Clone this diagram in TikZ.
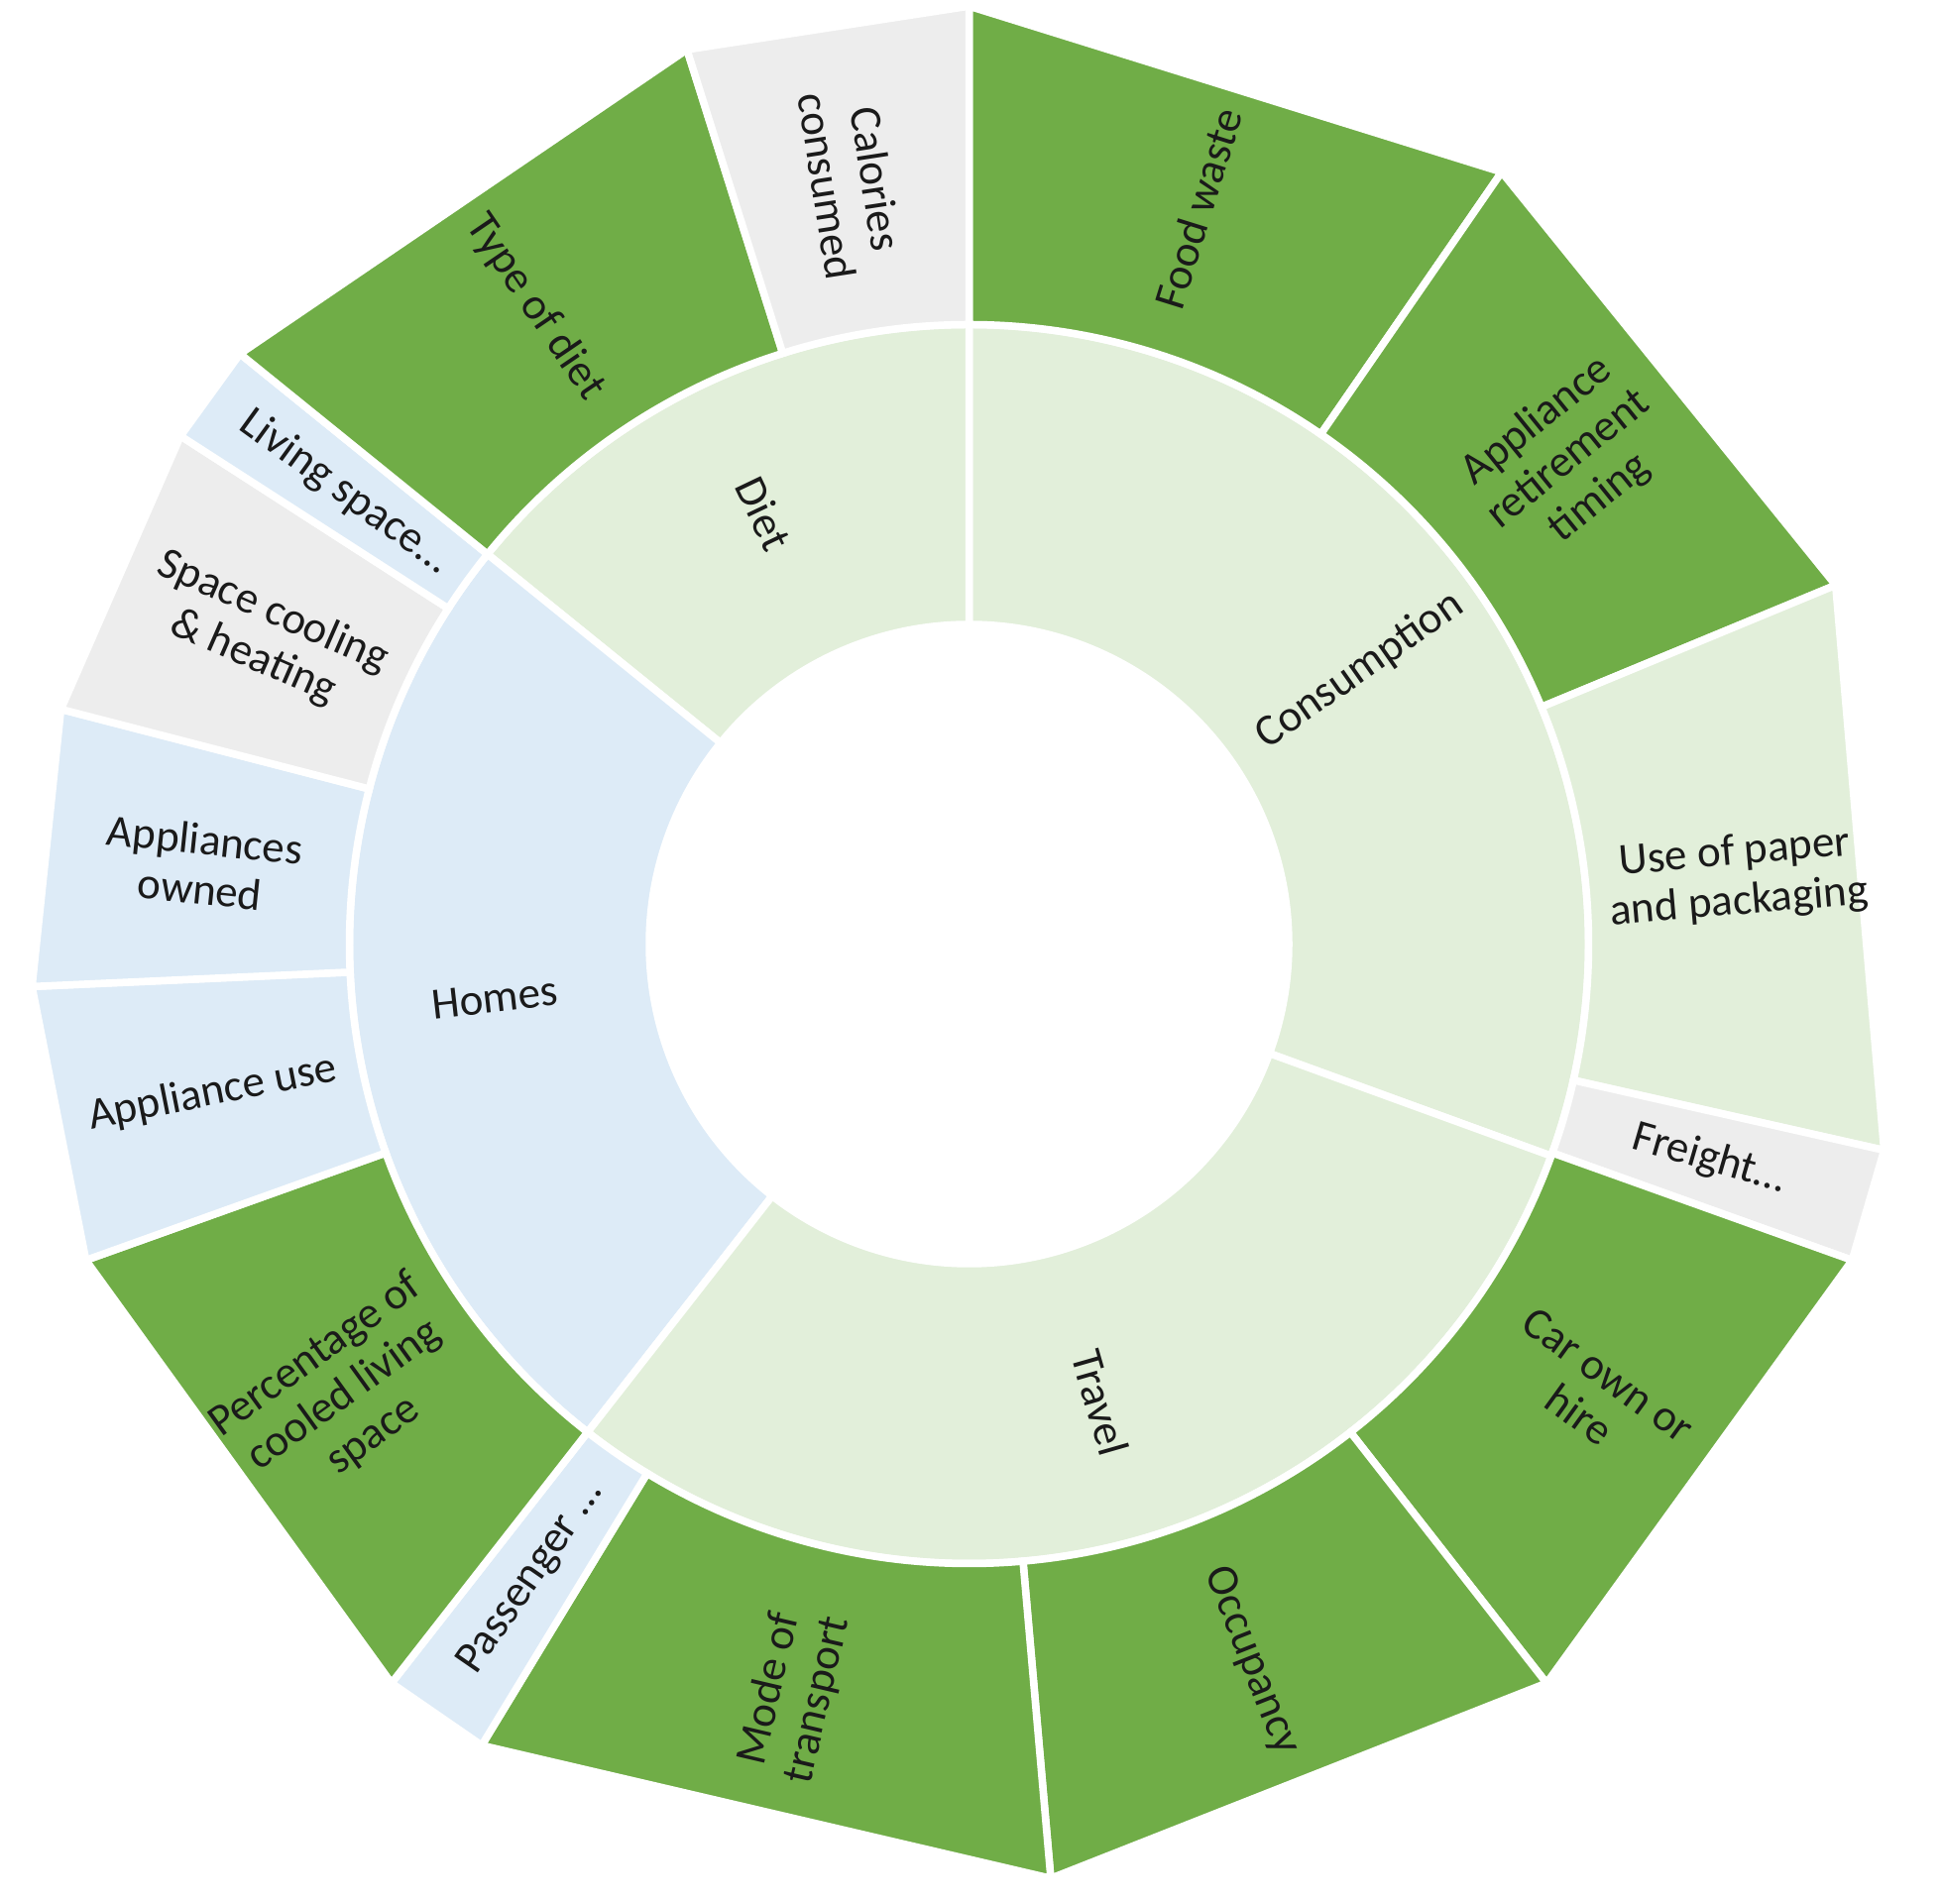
\documentclass[tikz,border=0pt]{standalone}
\usepackage{fontspec}
\setmainfont{Carlito}
\definecolor{dg}{HTML}{70AD47}
\definecolor{lg}{HTML}{E2EFDA}
\definecolor{lb}{HTML}{DDEBF7}
\definecolor{gy}{HTML}{EDEDED}
\definecolor{tx}{HTML}{1A1A1A}
\tikzset{seg/.style={draw=white,line width=6pt,line join=miter},
lbl/.style={text=tx,align=center,font=\fontsize{36}{40}\selectfont}}
\begin{document}
\begin{tikzpicture}[x=1pt,y=1pt]
\useasboundingbox (0,0) rectangle (1568,1536);
\begin{scope}[shift={(782,774)}]
\foreach \i/\a/\b/\c/\t in {1/-20/90/lg/Consumption,2/90/141/lg/Diet,3/141/232/lb/Homes,4/232/340/lg/Travel}{
 \filldraw[seg,fill=\c] (\a:258) arc[start angle=\a,end angle=\b,radius=258] -- (\b:500) arc[start angle=\b,end angle=\a,radius=500] -- cycle;
 \pgfmathsetmacro\m{(\a+\b)/2}
 \pgfmathsetmacro\r{cos(\m)>=0 ? \m : \m-180}
 \node[lbl,rotate=\r] (in\i) at (\m:385) {\t};
}
\foreach \i/\a/\b/\c/\t in {
1/55.4/90/dg/{Food waste},
2/22.5/55.4/dg/{Appliance\\retirement\\timing},
3/-12.7/22.5/lg/{Use of paper\\and packaging},
4/-19.7/-12.7/gy/{Freight…},
5/-52/-19.7/dg/{Car own or\\hire},
6/-85/-52/dg/{Occupancy},
7/238.7/275/dg/{Mode of\\transport},
8/232/238.7/lb/{Passenger …},
9/199.7/232/dg/{Percentage of\\cooled living\\space},
10/182.6/199.7/lb/{Appliance use},
11/165.5/182.6/lb/{Appliances\\owned},
12/147.2/165.5/gy/{Space cooling\\\& heating},
13/141/147.2/lb/{Living space…},
14/107.5/141/dg/{Type of diet},
15/90/107.5/gy/{Calories\\consumed}}{
 \filldraw[seg,fill=\c] (\a:500) -- (\a:757) -- (\b:757) -- (\b:500) arc[start angle=\b,end angle=\a,radius=500] -- cycle;
 \pgfmathsetmacro\m{(\a+\b)/2}
 \pgfmathsetmacro\r{cos(\m)>=0 ? \m : \m-180}
 \node[lbl,rotate=\r] (out\i) at (\m:622) {\t};
}
\end{scope}
\end{tikzpicture}
\end{document}
